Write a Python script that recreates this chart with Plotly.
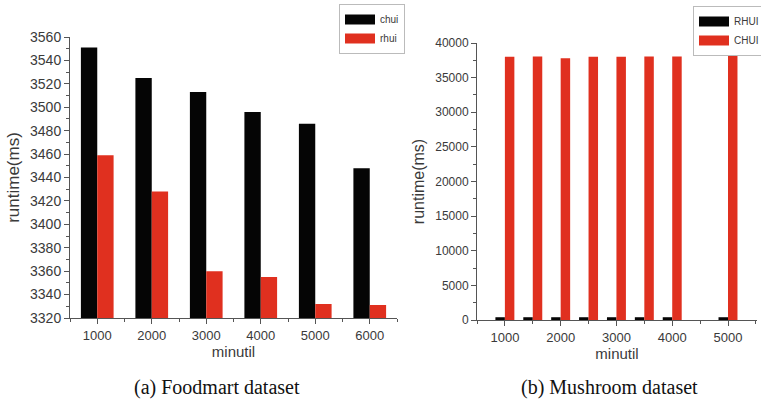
import plotly.graph_objects as go

# ---- data ----
foodmart_minutil = [1000, 2000, 3000, 4000, 5000, 6000]
foodmart_chui = [3551, 3525, 3513, 3496, 3486, 3448]
foodmart_rhui = [3459, 3428, 3360, 3355, 3332, 3331]

mushroom_minutil = [1000, 1500, 2000, 2500, 3000, 3500, 4000, 5000]
mushroom_rhui = [400, 400, 400, 400, 400, 400, 400, 400]
mushroom_chui = [38000, 38050, 37800, 38000, 38000, 38050, 38050, 38200]

BLACK = "#050505"
RED = "#E0301F"
AX = "#555555"
TXT = "#3a3a3a"
FONT = "Liberation Sans, Arial"

W, H = 761, 401

def px_x(a, b):
    return [a / W, b / W]

def px_y(top, bottom):
    return [(H - bottom) / H, (H - top) / H]

fig = go.Figure()

lw_left = 300
fig.add_trace(go.Bar(x=foodmart_minutil, y=foodmart_chui, name="chui", showlegend=False,
                     marker=dict(color=BLACK, line=dict(width=0)),
                     width=lw_left, offset=-lw_left, xaxis="x", yaxis="y"))
fig.add_trace(go.Bar(x=foodmart_minutil, y=foodmart_rhui, name="rhui", showlegend=False,
                     marker=dict(color=RED, line=dict(width=0)),
                     width=lw_left, offset=0, xaxis="x", yaxis="y"))

lw_right = 170
fig.add_trace(go.Bar(x=mushroom_minutil, y=mushroom_rhui, name="RHUI", showlegend=False,
                     marker=dict(color=BLACK, line=dict(width=0)),
                     width=lw_right, offset=-lw_right, xaxis="x2", yaxis="y2"))
fig.add_trace(go.Bar(x=mushroom_minutil, y=mushroom_chui, name="CHUI", showlegend=False,
                     marker=dict(color=RED, line=dict(width=0)),
                     width=lw_right, offset=0, xaxis="x2", yaxis="y2"))

# legend entries with wide rectangular swatches
for name, color, leg, xa, ya in [("chui", BLACK, "legend", "x", "y"),
                                 ("rhui", RED, "legend", "x", "y"),
                                 ("RHUI", BLACK, "legend2", "x2", "y2"),
                                 ("CHUI", RED, "legend2", "x2", "y2")]:
    fig.add_trace(go.Scatter(x=[None], y=[None], mode="lines", name=name,
                             line=dict(color=color, width=10), legend=leg,
                             xaxis=xa, yaxis=ya, hoverinfo="skip"))

axis_common = dict(showline=True, linecolor=AX, linewidth=1, ticks="outside",
                   tickcolor=AX, ticklen=5, showgrid=False, zeroline=False,
                   tickfont=dict(family=FONT, color=TXT, size=13))
minor_common = dict(ticks="outside", ticklen=3, tickcolor=AX, showgrid=False)

fig.update_layout(
    width=W, height=H, autosize=False,
    margin=dict(l=0, r=0, t=0, b=0, autoexpand=False),
    paper_bgcolor="white", plot_bgcolor="white",
    barmode="overlay",
    xaxis=dict(domain=px_x(70, 397), anchor="y", range=[500, 6500],
               tickmode="array", tickvals=foodmart_minutil,
               minor=dict(dtick=500, **minor_common),
               title=dict(text="minutil", standoff=2,
                          font=dict(family=FONT, color=TXT, size=15)),
               **axis_common),
    yaxis=dict(domain=px_y(37, 318), anchor="x", range=[3320, 3560],
               dtick=20, minor=dict(dtick=10, **minor_common),
               title=dict(text="runtime(ms)", standoff=6,
                          font=dict(family=FONT, color=TXT, size=17)),
               **{**axis_common, "tickfont": dict(family=FONT, color=TXT, size=14)}),
    xaxis2=dict(domain=px_x(477, 757), anchor="y2", range=[500, 5520],
                tickmode="array", tickvals=[1000, 2000, 3000, 4000, 5000],
                minor=dict(dtick=500, **minor_common),
                title=dict(text="minutil", standoff=2,
                           font=dict(family=FONT, color=TXT, size=15)),
                **axis_common),
    yaxis2=dict(domain=px_y(43, 320), anchor="x2", range=[0, 40000],
                dtick=5000, tickformat="d", minor=dict(dtick=2500, **minor_common),
                title=dict(text="runtime(ms)", standoff=6,
                           font=dict(family=FONT, color=TXT, size=16)),
                **{**axis_common, "tickfont": dict(family=FONT, color=TXT, size=12)}),
    legend=dict(x=339 / W, y=1 - 4 / H, xanchor="left", yanchor="top",
                bgcolor="white", bordercolor="#bbbbbb", borderwidth=1,
                font=dict(family=FONT, color=TXT, size=10),
                tracegroupgap=0, itemwidth=30),
    legend2=dict(x=693 / W, y=1 - 6 / H, xanchor="left", yanchor="top",
                 bgcolor="white", bordercolor="#bbbbbb", borderwidth=1,
                 font=dict(family=FONT, color=TXT, size=10),
                 tracegroupgap=0, itemwidth=30),
    annotations=[
        dict(text="(a) Foodmart dataset", x=217 / W, y=1 - 387 / H, xref="paper", yref="paper",
             showarrow=False, xanchor="center", yanchor="middle",
             font=dict(family="Liberation Serif, Times New Roman", size=20, color="#111111")),
        dict(text="(b) Mushroom dataset", x=609 / W, y=1 - 387 / H, xref="paper", yref="paper",
             showarrow=False, xanchor="center", yanchor="middle",
             font=dict(family="Liberation Serif, Times New Roman", size=20, color="#111111")),
    ],
)

fig.write_html("out.html", config={"displayModeBar": False},
               post_script="document.body.style.margin='0';document.body.style.overflow='hidden';")
